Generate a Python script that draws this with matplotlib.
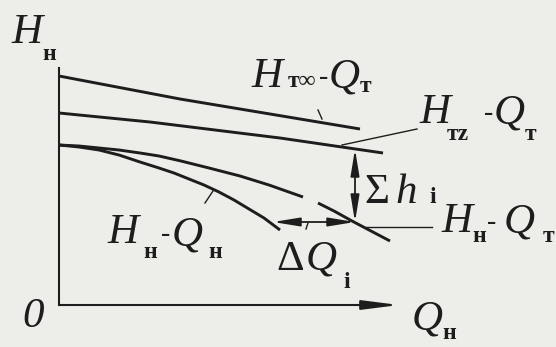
import numpy as np
import matplotlib.pyplot as plt

plt.rcParams['font.family'] = ['Liberation Serif', 'DejaVu Serif']

ink = '#1d1d1d'
paper = '#edede9'

# характеристики (Q, H), усл. единицы
q_tinf = [0, 121, 301]
h_tinf = [229, 206, 176]

q_tz = [0, 91, 221, 324]
h_tz = [192, 183, 167, 152]

# H_н - Q_т (с разрывом возле стрелки)
q_nt = [0, 20, 40, 60, 81, 100, 122, 150, 181, 210, 244, np.nan, 259, 275, 293, 312, 331]
h_nt = [160, 159, 157, 155, 152, 149, 144, 137, 129, 120, 108, np.nan, 102, 94, 84, 74, 64]

# H_н - Q_н
q_nn = [0, 20, 40, 60, 81, 100, 115, 130, 145, 160, 175, 190, 205, 221]
h_nn = [160, 158, 155, 150, 143, 137, 132, 126, 120, 113, 105, 96, 87, 75]

# точка i: потери напора и утечки
q_i = 296
h_i_top = 156
h_i_bot = 83
q_dq_left = 214

fig = plt.figure(figsize=(5.56, 3.47), dpi=100, facecolor=paper)
ax = fig.add_axes([0, 0, 1, 1])
ax.set_facecolor(paper)
ax.set_xlim(-59, 497)
ax.set_ylim(-42, 305)
ax.axis('off')

lw = 2.1
for q, h in [(q_tinf, h_tinf), (q_tz, h_tz), (q_nt, h_nt), (q_nn, h_nn)]:
    ax.plot(q, h, color=ink, lw=lw, solid_capstyle='butt', solid_joinstyle='round')

# оси
ax.plot([0, 0], [0, 237], color=ink, lw=1.5)
ax.annotate('', xy=(340, 0), xytext=(0, 0),
            arrowprops=dict(arrowstyle='-|>,head_length=2.2,head_width=0.28',
                            color=ink, lw=1.5, shrinkA=0, shrinkB=0, mutation_scale=10))

# Σh_i и ΔQ_i
arr = dict(arrowstyle='<|-|>,head_length=1.6,head_width=0.26',
           color=ink, lw=1.3, shrinkA=0, shrinkB=0, mutation_scale=10)
ax.annotate('', xy=(q_i, h_i_top), xytext=(q_i, h_i_bot), arrowprops=arr)
ax.annotate('', xy=(q_dq_left, h_i_bot), xytext=(q_i, h_i_bot), arrowprops=arr)

# выноски
thin = dict(color=ink, lw=1.0)
ax.plot([259, 263], [195, 186], **thin)
ax.plot([283, 358], [160, 176], **thin)
ax.plot([307, 373], [78, 78], **thin)
ax.plot([154, 146], [114, 102], **thin)
ax.plot([249, 247], [82, 76], **thin)

big = dict(fontsize=31, style='italic', color=ink, va='baseline', ha='left')
sub = dict(fontsize=17, fontweight='bold', color=ink, va='baseline', ha='left')
dash = dict(fontsize=20, color=ink, va='baseline', ha='left')

# подписи осей
ax.text(-48, 262, 'H', **big)
ax.text(-17, 245, 'н', **sub)
ax.text(-37, -22, '0', **big)
ax.text(353, -24, 'Q', **big)
ax.text(383, -34, 'н', **sub)

# H_т∞ - Q_т
ax.text(192, 218, 'H', **big)
ax.text(229, 218, 'т∞', **sub)
ax.text(260, 221, '-', **dash)
ax.text(270, 218, 'Q', **big)
ax.text(301, 213, 'т', **sub)

# H_тz - Q_т
ax.text(360, 182, 'H', **big)
ax.text(388, 165, 'тz', **sub)
ax.text(425, 185, '-', **dash)
ax.text(435, 182, 'Q', **big)
ax.text(466, 165, 'т', **sub)

# Σh_i
ax.text(305, 102, 'Σ', fontsize=31, color=ink, va='baseline', ha='left')
ax.text(336, 102, 'h', **big)
ax.text(370, 102, 'i', **sub)

# H_н - Q_т
ax.text(382, 73, 'H', **big)
ax.text(413, 63, 'н', **sub)
ax.text(428, 76, '-', **dash)
ax.text(445, 73, 'Q', **big)
ax.text(484, 63, 'т', **sub)

# H_н - Q_н
ax.text(48, 62, 'H', **big)
ax.text(84, 47, 'н', **sub)
ax.text(102, 64, '-', **dash)
ax.text(113, 60, 'Q', **big)
ax.text(149, 47, 'н', **sub)

# ΔQ_i
ax.text(217, 35, 'Δ', fontsize=31, color=ink, va='baseline', ha='left')
ax.text(247, 35, 'Q', **big)
ax.text(284, 17, 'i', **sub)

fig.savefig('out.png', dpi=100, facecolor=paper)
